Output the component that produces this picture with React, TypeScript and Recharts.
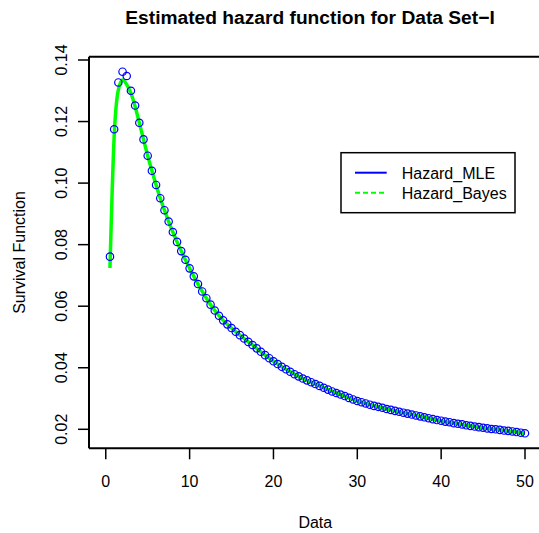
import { ComposedChart, Line, XAxis, YAxis, ReferenceLine } from "recharts";

// x grid of the estimates
const xValues = [
  0.5, 1, 1.5, 2, 2.5, 3, 3.5, 4, 4.5, 5,
  5.5, 6, 6.5, 7, 7.5, 8, 8.5, 9, 9.5, 10,
  10.5, 11, 11.5, 12, 12.5, 13, 13.5, 14, 14.5, 15,
  15.5, 16, 16.5, 17, 17.5, 18, 18.5, 19, 19.5, 20,
  20.5, 21, 21.5, 22, 22.5, 23, 23.5, 24, 24.5, 25,
  25.5, 26, 26.5, 27, 27.5, 28, 28.5, 29, 29.5, 30,
  30.5, 31, 31.5, 32, 32.5, 33, 33.5, 34, 34.5, 35,
  35.5, 36, 36.5, 37, 37.5, 38, 38.5, 39, 39.5, 40,
  40.5, 41, 41.5, 42, 42.5, 43, 43.5, 44, 44.5, 45,
  45.5, 46, 46.5, 47, 47.5, 48, 48.5, 49, 49.5, 50,
];

const mleHazard = [
  0.0761, 0.1175, 0.1327, 0.1362, 0.1348, 0.13, 0.1252, 0.1196, 0.1142, 0.1089,
  0.104, 0.0994, 0.0951, 0.0912, 0.0875, 0.0841, 0.0809, 0.0779, 0.0751, 0.0723,
  0.0697, 0.0672, 0.0648, 0.0626, 0.0605, 0.0586, 0.0569, 0.0554, 0.0541, 0.0529,
  0.0517, 0.0506, 0.0495, 0.0484, 0.0474, 0.0463, 0.0452, 0.0441, 0.0431, 0.0421,
  0.0412, 0.0403, 0.0395, 0.0387, 0.0379, 0.0372, 0.0365, 0.0359, 0.0353, 0.0347,
  0.0341, 0.0335, 0.0329, 0.0323, 0.0318, 0.0313, 0.0308, 0.0302, 0.0297, 0.0292,
  0.0288, 0.0284, 0.028, 0.0276, 0.0273, 0.027, 0.0266, 0.0263, 0.026, 0.0257,
  0.0254, 0.0251, 0.0248, 0.0245, 0.0242, 0.0239, 0.0236, 0.0233, 0.023, 0.0228,
  0.0225, 0.0223, 0.022, 0.0218, 0.0216, 0.0213, 0.0211, 0.0209, 0.0207, 0.0205,
  0.0203, 0.0201, 0.02, 0.0198, 0.0196, 0.0195, 0.0193, 0.0191, 0.0189, 0.0187,
];

const bayesHazard = [
  0.0724, 0.1151, 0.1303, 0.1335, 0.132, 0.1292, 0.1249, 0.1196, 0.1142, 0.1089,
  0.104, 0.0994, 0.0951, 0.0912, 0.0875, 0.0841, 0.0809, 0.0779, 0.0751, 0.0723,
  0.0697, 0.0672, 0.0648, 0.0626, 0.0605, 0.0586, 0.0569, 0.0554, 0.0541, 0.0529,
  0.0517, 0.0506, 0.0495, 0.0484, 0.0474, 0.0463, 0.0452, 0.0441, 0.0431, 0.0421,
  0.0412, 0.0403, 0.0395, 0.0387, 0.0379, 0.0372, 0.0365, 0.0359, 0.0353, 0.0347,
  0.0341, 0.0335, 0.0329, 0.0323, 0.0318, 0.0313, 0.0308, 0.0302, 0.0297, 0.0292,
  0.0288, 0.0284, 0.028, 0.0276, 0.0273, 0.027, 0.0266, 0.0263, 0.026, 0.0257,
  0.0254, 0.0251, 0.0248, 0.0245, 0.0242, 0.0239, 0.0236, 0.0233, 0.023, 0.0228,
  0.0225, 0.0223, 0.022, 0.0218, 0.0216, 0.0213, 0.0211, 0.0209, 0.0207, 0.0205,
  0.0203, 0.0201, 0.02, 0.0198, 0.0196, 0.0195, 0.0193, 0.0191, 0.0189, 0.0187,
];

const xTicks = [0, 10, 20, 30, 40, 50];
const yTicks = [0.02, 0.04, 0.06, 0.08, 0.1, 0.12, 0.14];
const yTickLabels = ["0.02", "0.04", "0.06", "0.08", "0.10", "0.12", "0.14"];

const FONT = "'Liberation Sans', Arial, Helvetica, sans-serif";
const W = 539;
const H = 533;

const App = () => {
  const rows = xValues.map((x, i) => ({ x, mle: mleHazard[i], bayes: bayesHazard[i] }));

  // placed over the whole window, so coordinates below are page pixels
  return (
    <div style={{ position: "absolute", left: 0, top: 0, width: W, height: H, fontFamily: FONT, background: "#fff" }}>
      <ComposedChart width={W} height={H} data={rows} margin={{ top: 56.7, right: 0, bottom: 0, left: 0 }}>
        <XAxis
          dataKey="x"
          type="number"
          domain={[-2, 51.67]}
          allowDataOverflow
          ticks={xTicks}
          height={84.7}
          tickSize={11}
          axisLine={{ stroke: "#000", strokeWidth: 2 }}
          tickLine={{ stroke: "#000", strokeWidth: 1.5 }}
          tick={(p: any) => (
            <text x={p.x} y={487} textAnchor="middle" fontSize={16} fontFamily={FONT} fill="#000">
              {p.payload.value}
            </text>
          )}
        />
        <YAxis
          type="number"
          domain={[0.013826, 0.141072]}
          allowDataOverflow
          ticks={yTicks}
          width={89}
          tickSize={11}
          axisLine={{ stroke: "#000", strokeWidth: 2 }}
          tickLine={{ stroke: "#000", strokeWidth: 1.5 }}
          tick={(p: any) => (
            <text
              transform={`translate(66.5, ${p.y}) rotate(-90)`}
              textAnchor="middle"
              fontSize={16}
              fontFamily={FONT}
              fill="#000"
            >
              {yTickLabels[yTicks.indexOf(p.payload.value)] ?? p.payload.value}
            </text>
          )}
        />
        <ReferenceLine y={0.141072} stroke="#000" strokeWidth={2} />
        <Line
          dataKey="mle"
          stroke="none"
          isAnimationActive={false}
          dot={{ r: 3.7, stroke: "#0000FF", strokeWidth: 1.2, fill: "none" }}
          activeDot={false}
        />
        <Line
          dataKey="bayes"
          type="monotone"
          stroke="#00FF00"
          strokeWidth={3.5}
          dot={false}
          activeDot={false}
          isAnimationActive={false}
        />
      </ComposedChart>
      <svg width={W} height={H} style={{ position: "absolute", left: 0, top: 0, pointerEvents: "none" }}>
        <text x={310} y={24} textAnchor="middle" fontSize={19.2} fontWeight="bold" fontFamily={FONT} fill="#000">
          Estimated hazard function for Data Set−I
        </text>
        <text x={315.3} y={528} textAnchor="middle" fontSize={16} fontFamily={FONT} fill="#000">
          Data
        </text>
        <text
          transform="translate(25, 252.5) rotate(-90)"
          textAnchor="middle"
          fontSize={16}
          fontFamily={FONT}
          fill="#000"
        >
          Survival Function
        </text>
        <rect x={341} y={152.7} width={174} height={60} fill="#fff" stroke="#000" strokeWidth={1.5} />
        <line x1={355} y1={172.7} x2={386.7} y2={172.7} stroke="#0000FF" strokeWidth={2} />
        <line x1={355} y1={192.7} x2={386.7} y2={192.7} stroke="#00FF00" strokeWidth={2} strokeDasharray="5 3" />
        <text x={401.7} y={178.5} fontSize={16} fontFamily={FONT} fill="#000">
          Hazard_MLE
        </text>
        <text x={401.7} y={198.5} fontSize={16} fontFamily={FONT} fill="#000">
          Hazard_Bayes
        </text>
      </svg>
    </div>
  );
};

export default App;
